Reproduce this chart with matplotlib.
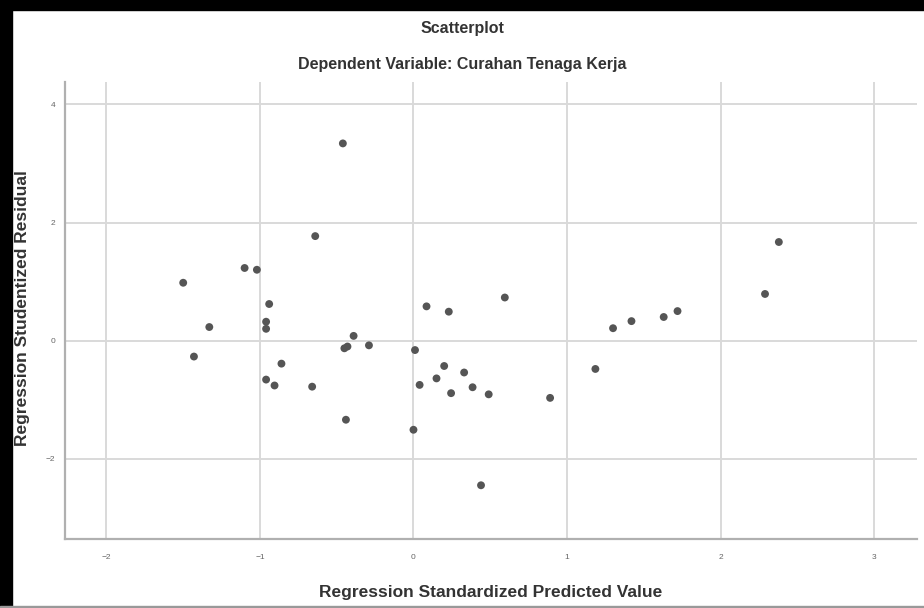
import matplotlib
matplotlib.use('Agg')
from matplotlib import pyplot as plt
from matplotlib.patches import Rectangle

# Standardized predicted value (x) and studentized residual (y)
pred = [-0.46, -0.64, -1.50, -1.10, -1.02, -0.94, -0.96, -0.96, -1.33, -1.43,
        -0.39, -0.43, -0.45, -0.29, 0.01, 0.085, 0.23, -0.86, -0.96, -0.905,
        -0.66, -0.44, 0.00, 0.04, 0.15, 0.20, 0.245, 0.33, 0.385, 0.49,
        0.44, 0.89, 1.185, 1.30, 1.42, 1.63, 1.72, 0.595, 2.29, 2.38]
resid = [3.34, 1.77, 0.98, 1.23, 1.20, 0.62, 0.32, 0.20, 0.23, -0.27,
         0.08, -0.10, -0.13, -0.08, -0.16, 0.58, 0.49, -0.39, -0.66, -0.76,
         -0.78, -1.34, -1.51, -0.75, -0.64, -0.43, -0.89, -0.54, -0.79, -0.91,
         -2.45, -0.97, -0.48, 0.21, 0.33, 0.40, 0.50, 0.73, 0.79, 1.67]

xticks = [-2, -1, 0, 1, 2, 3]
yticks = [-2, 0, 2, 4]

plt.rcParams['font.family'] = ['Liberation Sans', 'DejaVu Sans']

fig = plt.figure(figsize=(9.24, 6.08), dpi=100)
ax = fig.add_axes([65/924, 1-539/608, (917-65)/924, (539-82)/608])

ax.scatter(pred, resid, s=32, color='#555555', edgecolors='none', zorder=3)

ax.set_xlim(-2.27, 3.28)
ax.set_ylim(-3.36, 4.38)
ax.set_xticks(xticks)
ax.set_yticks(yticks)
ax.grid(True, color='#d9d9d9', linewidth=1.4)
ax.set_axisbelow(True)
ax.tick_params(length=0, labelsize=6, colors='#666666')
ax.tick_params(axis='x', pad=11)
ax.tick_params(axis='y', pad=7)

for s in ['top', 'right']:
    ax.spines[s].set_visible(False)
for s in ['left', 'bottom']:
    ax.spines[s].set_color('#b0b0b0')
    ax.spines[s].set_linewidth(1.6)

fig.text(0.5, 1-28/608, 'Scatterplot', ha='center', va='center',
         fontsize=11.5, fontweight='bold', color='#333333')
fig.text(0.5, 1-65/608, 'Dependent Variable: Curahan Tenaga Kerja', ha='center', va='center',
         fontsize=11.5, fontweight='bold', color='#333333')
fig.text(491/924, 1-592/608, 'Regression Standardized Predicted Value', ha='center', va='center',
         fontsize=12.5, fontweight='bold', color='#333333')
fig.text(23/924, 1-308/608, 'Regression Studentized Residual', ha='center', va='center',
         rotation=90, fontsize=12.5, fontweight='bold', color='#333333')

# black frame edges of the screenshot
fig.patches.append(Rectangle((0, 1-10/608), 1, 10/608, transform=fig.transFigure,
                             color='black', zorder=10))
fig.patches.append(Rectangle((0, 0), 12/924, 1, transform=fig.transFigure,
                             color='black', zorder=10))
fig.patches.append(Rectangle((0, 0), 1, 2/608, transform=fig.transFigure,
                             color='#999999', zorder=10))

plt.savefig('out.png', dpi=100)
